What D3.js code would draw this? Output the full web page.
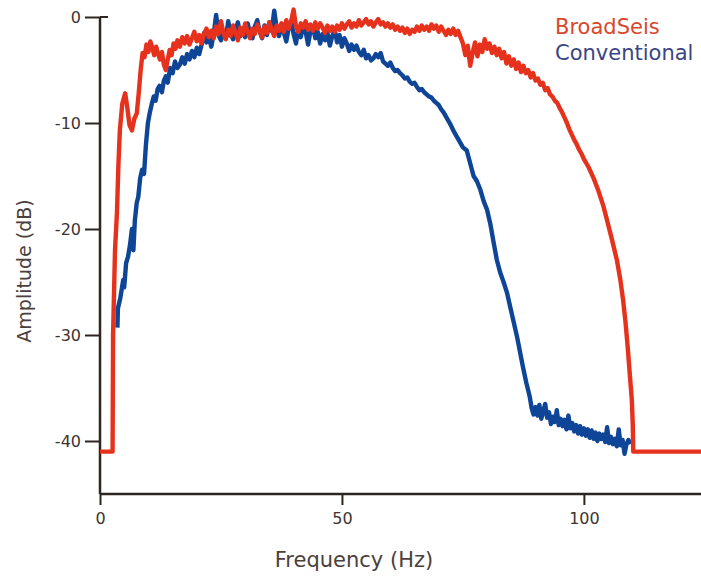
<!DOCTYPE html>
<html>
<head>
<meta charset="utf-8">
<script src="https://cdn.jsdelivr.net/npm/d3@7"></script>
<style>
  body { margin: 0; background: #fff; }
  svg { display: block; }
  text { font-family: 'DejaVu Sans', Verdana, sans-serif; }
</style>
</head>
<body>
<svg id="chart" width="701" height="576"></svg>
<script>
// amplitude spectra, [frequency Hz, amplitude dB]
const broadSeis = [
  [0,-41],[2.6,-41],[2.7,-30],[3.1,-22],[3.5,-18.5],[3.8,-14],[4.1,-10.7],[4.6,-8.2],[5.2,-7.2],[5.6,-8.4],
  [6.1,-10.2],[6.6,-10.7],[7.1,-9.6],[7.6,-9.1],[8.0,-7.2],[8.4,-5.0],[8.8,-3.4],[9.2,-3.8],[9.6,-2.6],[10.0,-3.3],
  [10.4,-2.3],[10.8,-2.9],[11.2,-3.6],[11.6,-2.8],[12.0,-3.5],[12.4,-4.0],[12.8,-3.3],[13.2,-4.5],[13.6,-5.0],[14.0,-4.0],
  [14.4,-3.1],[14.8,-3.6],[15.2,-2.5],[15.6,-3.0],[16.0,-2.2],[16.5,-2.8],[17.0,-1.9],[17.5,-2.5],[18.0,-1.8],[18.5,-2.6],
  [19.0,-2.0],[19.5,-1.4],[20.0,-2.3],[20.5,-1.7],[21.0,-2.5],[21.5,-1.6],[22.0,-1.1],[22.5,-1.9],[23.0,-1.3],[23.5,-2.0],
  [24.0,-0.9],[24.5,-1.6],[25.0,-0.4],[25.5,-1.5],[26.0,-2.1],[26.5,-1.2],[27.0,-1.8],[27.5,-0.8],[28.0,-1.5],[28.5,-2.2],
  [29.0,-1.0],[29.5,-1.7],[30.0,-0.6],[30.5,-1.4],[31.0,-2.0],[31.5,-1.1],[32.0,-1.6],[32.5,-0.7],[33.0,-1.3],[33.5,-1.9],
  [34.0,-0.9],[34.5,-1.5],[35.0,-0.5],[35.5,-1.2],[36.0,-1.8],[36.5,-0.8],[37.0,-1.3],[37.5,-0.6],[38.0,-1.4],[38.5,-0.3],
  [39.0,-1.1],[39.5,-0.4],[40.0,0.7],[40.5,-0.9],[41.0,-1.4],[41.5,-0.6],[42.0,-1.0],[42.5,-0.4],[43.0,-1.2],[43.5,-0.7],
  [44.0,-1.3],[44.5,-0.5],[45.0,-1.1],[45.5,-0.6],[46.0,-1.0],[46.5,-1.5],[47.0,-0.8],[47.5,-1.3],[48.0,-0.9],[48.5,-1.4],
  [49.0,-0.8],[49.5,-1.2],[50.0,-0.6],[50.5,-1.1],[51.0,-0.7],[51.5,-0.4],[52.0,-1.0],[52.5,-0.6],[53.0,-0.9],[53.5,-0.3],
  [54.0,-0.8],[54.5,-0.5],[55.0,-0.2],[55.5,-0.7],[56.0,-0.4],[56.5,-0.9],[57.0,-0.5],[57.5,-0.2],[58.0,-0.7],[58.5,-0.5],
  [59.0,-0.9],[59.5,-0.6],[60.0,-1.0],[60.5,-0.7],[61.0,-1.2],[61.5,-0.9],[62.0,-1.3],[62.5,-1.0],[63.0,-1.5],[63.5,-1.1],
  [64.0,-1.6],[64.5,-1.2],[65.0,-1.4],[65.5,-0.9],[66.0,-1.3],[66.5,-0.8],[67.0,-1.2],[67.5,-0.9],[68.0,-1.3],[68.5,-0.7],
  [69.0,-1.1],[69.5,-0.8],[70.0,-1.4],[70.5,-0.9],[71.0,-1.3],[71.5,-1.7],[72.0,-1.2],[72.5,-1.6],[73.0,-1.1],[73.5,-1.7],
  [74.0,-1.3],[74.5,-1.9],[75.0,-2.5],[75.5,-3.6],[76.0,-2.7],[76.5,-4.6],[77.0,-3.4],[77.5,-2.4],[78.0,-3.7],[78.5,-2.6],
  [79.0,-3.3],[79.5,-2.1],[80.0,-3.0],[80.5,-2.5],[81.0,-3.4],[81.5,-2.8],[82.0,-3.6],[82.5,-3.0],[83.0,-3.9],[83.5,-3.3],
  [84.0,-4.4],[84.5,-3.7],[85.0,-4.6],[85.5,-4.0],[86.0,-4.9],[86.5,-4.3],[87.0,-5.2],[87.5,-4.6],[88.0,-5.3],[88.5,-5.0],
  [89.0,-5.7],[89.5,-5.3],[90.0,-6.0],[90.5,-5.8],[91.0,-6.4],[91.5,-6.2],[92.0,-6.9],[92.5,-6.7],[93.0,-7.3],[93.5,-7.5],
  [94.0,-7.9],[94.5,-8.1],[95.0,-8.6],[95.5,-9.0],[96.0,-9.5],[96.5,-10.0],[97.0,-10.6],[97.5,-11.1],[98.0,-11.6],[98.5,-12.0],
  [99.0,-12.5],[99.5,-12.9],[100.0,-13.4],[100.5,-13.8],[101.0,-14.2],[101.5,-14.7],[102.0,-15.2],[102.5,-15.8],[103.0,-16.4],[104.0,-17.8],
  [104.8,-19.2],[105.8,-21.0],[106.8,-22.9],[107.5,-24.7],[108.1,-26.7],[108.6,-28.8],[109.1,-31.4],[109.5,-33.8],[109.9,-36.1],[110.1,-38.5],
  [110.2,-41],[124.5,-41]
];

const conventional = [
  [3.6,-29.3],[3.7,-27.5],[4.2,-26.5],[4.8,-24.8],[5.0,-25.5],[5.4,-23.2],[5.8,-22.6],[6.2,-21.5],[6.6,-20.0],[6.9,-22.0],
  [7.2,-19.2],[7.6,-17.5],[7.9,-17.0],[8.3,-15.2],[8.7,-14.4],[9.1,-14.8],[9.5,-12.0],[9.9,-10.0],[10.3,-9.0],[10.7,-8.2],
  [11.1,-7.5],[11.5,-7.9],[11.9,-6.8],[12.3,-6.5],[12.8,-7.1],[13.2,-6.0],[13.6,-5.6],[14.0,-6.2],[14.5,-4.8],[15.0,-5.3],
  [15.5,-4.2],[16.0,-4.8],[16.5,-4.5],[17.0,-3.8],[17.5,-4.4],[18.0,-3.5],[18.5,-4.0],[19.0,-3.2],[19.5,-3.8],[20.0,-2.9],
  [20.5,-3.5],[21.0,-2.6],[21.5,-1.5],[22.0,-2.4],[22.5,-1.9],[23.0,-2.8],[23.5,-1.6],[24.0,0.2],[24.5,-1.7],[25.0,-2.2],
  [25.5,-1.4],[26.0,-2.0],[26.5,-0.4],[27.0,-1.6],[27.5,-2.1],[28.0,-1.2],[28.5,-0.5],[29.0,-1.8],[29.5,-1.1],[30.0,-1.9],
  [30.5,-0.6],[31.0,-1.5],[31.5,-2.0],[32.0,-0.9],[32.5,-0.3],[33.0,-1.4],[33.5,-2.0],[34.0,-0.8],[34.5,-1.7],[35.0,-0.5],
  [35.5,-1.3],[36.0,0.6],[36.5,-1.0],[37.0,-1.8],[37.5,-0.7],[38.0,-1.5],[38.5,-2.3],[39.0,-1.0],[39.5,-0.4],[40.0,-1.6],
  [40.5,-2.5],[41.0,-1.1],[41.5,-1.9],[42.0,-0.8],[42.5,-1.4],[43.0,-2.6],[43.5,-1.3],[44.0,-0.9],[44.5,-2.0],[45.0,-1.4],
  [45.5,-2.5],[46.0,-1.6],[46.5,-2.2],[47.0,-1.5],[47.5,-2.7],[48.0,-1.8],[48.5,-1.2],[49.0,-2.4],[49.5,-1.7],[50.0,-2.8],
  [50.5,-2.0],[51.0,-2.5],[51.5,-3.2],[52.0,-2.6],[52.5,-3.1],[53.0,-2.7],[53.5,-3.3],[54.0,-3.6],[54.5,-3.1],[55.0,-3.9],
  [55.5,-3.6],[56.0,-4.1],[56.5,-3.9],[57.0,-3.5],[57.5,-3.8],[58.0,-3.4],[58.5,-4.2],[59.0,-4.4],[59.5,-4.6],[60.0,-4.3],
  [60.5,-4.8],[61.0,-5.1],[61.5,-5.0],[62.0,-5.3],[62.5,-5.5],[63.0,-5.8],[63.5,-5.7],[64.0,-6.1],[64.5,-6.3],[65.0,-6.2],
  [65.5,-6.6],[66.0,-6.9],[66.5,-6.8],[67.0,-7.1],[67.5,-7.3],[68.0,-7.5],[68.5,-7.6],[69.0,-7.9],[69.5,-8.1],[70.0,-8.3],
  [70.5,-8.7],[71.0,-9.0],[71.5,-9.4],[72.0,-9.8],[72.5,-10.2],[73.0,-10.7],[73.5,-11.1],[74.0,-11.5],[74.5,-11.9],[75.0,-12.3],
  [75.8,-12.6],[76.5,-13.8],[77.2,-15.0],[77.9,-15.5],[78.6,-16.3],[79.3,-17.4],[80.0,-18.2],[80.7,-19.6],[81.4,-21.4],[82.0,-22.9],
  [82.7,-24.1],[83.4,-25.0],[84.1,-26.0],[84.8,-27.4],[85.5,-28.8],[86.2,-30.2],[86.8,-31.6],[87.4,-33.0],[88.1,-34.5],[88.8,-35.8],
  [89.2,-36.9],[89.6,-37.5],[90.0,-36.8],[90.4,-37.6],[90.8,-36.6],[91.2,-37.9],[91.6,-37.2],[92.0,-36.5],[92.4,-37.8],[92.8,-37.3],
  [93.2,-38.4],[93.6,-37.7],[94.0,-38.2],[94.4,-37.1],[94.8,-38.5],[95.2,-37.9],[95.6,-38.6],[96.0,-38.0],[96.4,-38.9],[96.8,-37.6],
  [97.2,-38.8],[97.6,-38.3],[98.0,-39.1],[98.4,-38.5],[98.8,-39.3],[99.2,-38.6],[99.6,-39.4],[100.0,-38.8],[100.4,-39.5],[100.8,-38.9],
  [101.2,-39.7],[101.6,-39.0],[102.0,-39.8],[102.4,-39.2],[102.8,-40.0],[103.2,-39.3],[103.6,-39.8],[104.0,-39.4],[104.4,-40.1],[104.8,-38.7],
  [105.2,-40.2],[105.6,-39.6],[106.0,-40.3],[106.4,-39.8],[106.8,-40.5],[107.2,-38.9],[107.6,-40.4],[108.0,-39.9],[108.4,-41.2],[108.8,-40.3],
  [109.2,-39.9],[109.6,-40.3]
];

const xTicks = [0, 50, 100];
const yTicks = [0, -10, -20, -30, -40];
const seriesNames = ['BroadSeis', 'Conventional'];

const width = 701;
const height = 576;
const margin = { top: 17, right: 0, bottom: 82, left: 100 };

const axisColor = '#2e2420';
const textColor = '#3d3430';

const x = d3
  .scaleLinear()
  .domain([0, 124.2])
  .range([margin.left, width - margin.right]);

const y = d3
  .scaleLinear()
  .domain([-45, 0])
  .range([height - margin.bottom, margin.top]);

const svg = d3.select('#chart').attr('viewBox', [0, 0, width, height]);

const xAxis = (g) =>
  g
    .attr('transform', `translate(0,${height - margin.bottom})`)
    .call(d3.axisBottom(x).tickValues(xTicks).tickSize(11).tickPadding(8))
    .call((g) => g.select('.domain').remove())
    .call((g) =>
      g
        .append('line')
        .attr('x1', margin.left)
        .attr('x2', width - margin.right)
        .attr('stroke', axisColor)
        .attr('stroke-width', 2.5)
    )
    .call((g) => g.selectAll('.tick line').attr('stroke', axisColor).attr('stroke-width', 2))
    .call((g) =>
      g
        .selectAll('.tick text')
        .attr('fill', textColor)
        .attr('font-size', 16)
    );

const yAxis = (g) =>
  g
    .attr('transform', `translate(${margin.left},0)`)
    .call(
      d3
        .axisLeft(y)
        .tickValues(yTicks)
        .tickSize(15)
        .tickPadding(4)
        .tickFormat((d) => String(d)) // plain hyphen, as in the figure
    )
    .call((g) => g.select('.domain').remove())
    .call((g) =>
      g
        .append('line')
        .attr('y1', margin.top)
        .attr('y2', height - margin.bottom)
        .attr('stroke', axisColor)
        .attr('stroke-width', 2.5)
    )
    //cap at the top
    .call((g) =>
      g
        .append('line')
        .attr('x1', 0)
        .attr('x2', 8)
        .attr('y1', y(0))
        .attr('y2', y(0))
        .attr('stroke', axisColor)
        .attr('stroke-width', 2)
    )
    .call((g) => g.selectAll('.tick line').attr('stroke', axisColor).attr('stroke-width', 2))
    .call((g) =>
      g
        .selectAll('.tick text')
        .attr('fill', textColor)
        .attr('font-size', 16)
    );

svg.append('g').call(xAxis);
svg.append('g').call(yAxis);

const line = d3
  .line()
  .x((d) => x(d[0]))
  .y((d) => y(d[1]));

// conventional under, broadseis on top
svg
  .append('path')
  .datum(conventional)
  .attr('fill', 'none')
  .attr('stroke', '#0f4596')
  .attr('stroke-width', 4.4)
  .attr('stroke-linejoin', 'round')
  .attr('d', line);

svg
  .append('path')
  .datum(broadSeis)
  .attr('fill', 'none')
  .attr('stroke', '#e6311c')
  .attr('stroke-width', 4.4)
  .attr('stroke-linejoin', 'round')
  .attr('d', line);

// axis titles
svg
  .append('text')
  .attr('x', 354)
  .attr('y', 567)
  .attr('text-anchor', 'middle')
  .attr('font-size', 21)
  .attr('fill', '#4a403c')
  .text('Frequency (Hz)');

svg
  .append('text')
  .attr('transform', 'translate(31,271) rotate(-90)')
  .attr('text-anchor', 'middle')
  .attr('font-size', 19)
  .attr('fill', '#4a403c')
  .text('Amplitude (dB)');

// legend
const legendColors = ['#d8472c', '#3a4682'];
svg
  .selectAll('.legend')
  .data(seriesNames)
  .join('text')
  .attr('class', 'legend')
  .attr('x', 555)
  .attr('y', (d, i) => 34 + i * 26)
  .attr('font-size', 21)
  .attr('fill', (d, i) => legendColors[i])
  .text((d) => d);
</script>
</body>
</html>
